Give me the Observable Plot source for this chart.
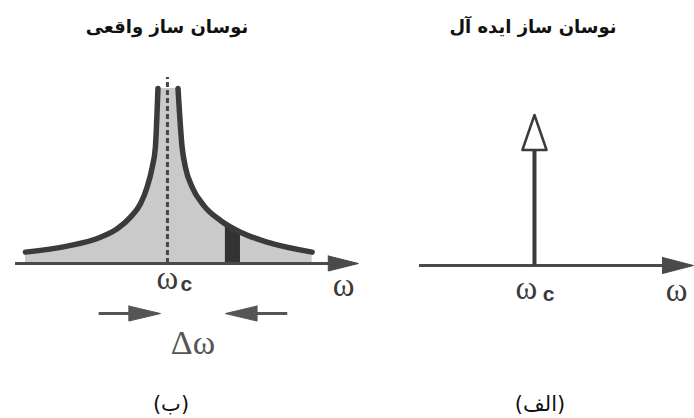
<!DOCTYPE html>
<html>
<head>
<meta charset="utf-8">
<script src="https://cdn.jsdelivr.net/npm/d3@7"></script>
<script src="https://cdn.jsdelivr.net/npm/@observablehq/plot@0.6"></script>
<style>
  body { margin: 0; background: #fff; }
  #fig { position: relative; width: 694px; height: 418px; overflow: hidden; background: #fff; }
  .title { position: absolute; top: 16px; line-height: 26px; font: bold 18px "DejaVu Sans", sans-serif;
           direction: rtl; transform: translateX(-50%); white-space: nowrap; color: #111; }
  .cap { position: absolute; top: 392px; line-height: 26px; font: 21px "DejaVu Sans", sans-serif;
         direction: rtl; transform: translateX(-50%); white-space: nowrap; color: #111; }
  .panel { position: absolute; top: 55px; }
</style>
</head>
<body>
<div id="fig"></div>
<script>
// Panel headings and captions
const titles = ["نوسان ساز واقعی", "نوسان ساز ایده آل"];
const captions = ["(ب)", "(الف)"];
const omega = "ω";
const centerSub = "c";
const linewidthLabel = "Δω";

// Real oscillator: spectral level on each side of ωc (offset from ωc, arbitrary units)
const lowerOffset = [-9.41, -6.65, -4.44, -3.33, -2.45, -1.79, -1.35, -1.01, -0.80, -0.63];
const lowerLevel  = [0.65, 0.99, 1.50, 1.98, 2.65, 3.41, 4.36, 5.50, 6.65, 10];
const upperOffset = [0.70, 0.97, 1.19, 1.64, 2.41, 3.51, 4.84, 6.61, 9.59];
const upperLevel  = [10, 6.65, 5.50, 4.36, 3.31, 2.46, 1.79, 1.22, 0.65];

// Narrow slice of the upper skirt, shaded dark
const sliceOffset = [3.84, 4.84];
const sliceLevel  = [2.3, 1.8];

// Δω: the two offsets the arrows point at
const linewidthEdges = [-0.46, 3.84];

// Ideal oscillator: one spectral line at ωc
const idealOffset = [0];
const idealLevel  = [8.6];

// ---- tables for the marks ----
const realSpectrum = [
  ...lowerOffset.map((x, i) => ({x, y: lowerLevel[i], side: "lower"})),
  ...upperOffset.map((x, i) => ({x, y: upperLevel[i], side: "upper"}))
];
const slice = sliceOffset.map((x, i) => ({x, y: sliceLevel[i]}));

// closed triangle pointing along x (dir = +1 right, -1 left), tip at (tx, ty)
function hHead(id, tx, ty, dir, len, half) {
  const bx = tx - dir * len;
  return [{id, x: bx, y: ty + half}, {id, x: tx, y: ty}, {id, x: bx, y: ty - half}, {id, x: bx, y: ty + half}];
}
// closed triangle pointing up, apex at (tx, ty)
function vHead(id, tx, ty, len, half) {
  const by = ty - len;
  return [{id, x: tx - half, y: by}, {id, x: tx, y: ty}, {id, x: tx + half, y: by}, {id, x: tx - half, y: by}];
}

const ink = "#3b3b3b";
const axisInk = "#4a4a4a";
const serif = "Liberation Serif, serif";
const sans = "Liberation Sans, sans-serif";

// ---- left panel: real oscillator ----
const dirs = [1, -1];           // Δω arrows point inward
const arrowY = -2.86;
const linewidthHeads = linewidthEdges.flatMap((t, i) => hHead("w" + i, t, arrowY, dirs[i], 2.1, 0.43));

const real = Plot.plot({
  width: 380, height: 310, margin: 0,
  x: {domain: [-11, 12], range: [1, 348]},
  y: {domain: [0, 10], range: [208, 33]},
  axis: null,
  style: {background: "transparent", overflow: "visible"},
  marks: [
    Plot.areaY(realSpectrum, {x: "x", y: "y", fill: "#cacaca", curve: "monotone-x"}),
    Plot.areaY(slice, {x: "x", y: "y", fill: "#333"}),
    Plot.ruleX([0], {y1: 0, y2: 10.63, stroke: "#474747", strokeWidth: 3, strokeDasharray: "5,3"}),
    Plot.ruleY([0], {x1: -10.07, x2: 11, stroke: axisInk, strokeWidth: 3}),
    Plot.line(realSpectrum, {x: "x", y: "y", z: "side", stroke: ink, strokeWidth: 5.5, curve: "monotone-x"}),
    Plot.line(hHead("axis", 12.66, 0, 1, 2, 0.43), {x: "x", y: "y", fill: axisInk, stroke: axisInk, strokeWidth: 1}),
    Plot.link(linewidthEdges, {
      x1: (d, i) => d - dirs[i] * 4.1, x2: (d, i) => d - dirs[i] * 1.5,
      y1: arrowY, y2: arrowY, stroke: "#555", strokeWidth: 3
    }),
    Plot.line(linewidthHeads, {x: "x", y: "y", z: "id", fill: "#555", stroke: "#555", strokeWidth: 1}),
    Plot.text([linewidthLabel], {
      x: d3.mean(linewidthEdges), y: arrowY, text: d => d, dy: 40, lineAnchor: "bottom",
      fontFamily: serif, fontSize: 34, fill: "#555"
    }),
    Plot.text([omega], {x: 0, y: 0, text: d => d, dy: 25, lineAnchor: "bottom", fontFamily: serif, fontSize: 33, fill: ink}),
    Plot.text([centerSub], {x: 0, y: 0, text: d => d, dx: 19, dy: 27, lineAnchor: "bottom", fontFamily: sans, fontWeight: "bold", fontSize: 21, fill: ink}),
    Plot.text([omega], {x: 11.67, y: 0, text: d => d, dy: 32, lineAnchor: "bottom", fontFamily: serif, fontSize: 33, fill: ink})
  ]
});
real.classList.add("panel");
real.style.left = "0px";

// ---- right panel: ideal oscillator ----
const ideal = Plot.plot({
  width: 314, height: 310, margin: 0,
  x: {domain: [-10.2, 10.6], range: [0, 314]},
  y: {domain: [0, 10], range: [210, 35]},
  axis: null,
  style: {background: "transparent", overflow: "visible"},
  marks: [
    Plot.ruleY([0], {x1: -7.62, x2: 8.8, stroke: axisInk, strokeWidth: 3}),
    Plot.line(hHead("axis", 10.53, 0, 1, 2.05, 0.46), {x: "x", y: "y", fill: axisInk, stroke: axisInk, strokeWidth: 1}),
    Plot.ruleX(idealOffset, {y1: 0, y2: (d, i) => idealLevel[i] - 2, stroke: ink, strokeWidth: 4}),
    Plot.line(idealOffset.flatMap((d, i) => vHead("line" + i, d, idealLevel[i], 2, 0.8)),
      {x: "x", y: "y", z: "id", fill: "white", stroke: ink, strokeWidth: 2.5}),
    Plot.text([omega], {x: 0, y: 0, text: d => d, dx: -8, dy: 33, lineAnchor: "bottom", fontFamily: serif, fontSize: 33, fill: ink}),
    Plot.text([centerSub], {x: 0, y: 0, text: d => d, dx: 14, dy: 35, lineAnchor: "bottom", fontFamily: sans, fontWeight: "bold", fontSize: 21, fill: ink}),
    Plot.text([omega], {x: 9.41, y: 0, text: d => d, dy: 35, lineAnchor: "bottom", fontFamily: serif, fontSize: 33, fill: ink})
  ]
});
ideal.classList.add("panel");
ideal.style.left = "380px";

const fig = document.getElementById("fig");
fig.append(real, ideal);

// headings above, captions below
const titleX = [167, 533];
const capX = [171, 540];
titles.forEach((t, i) => {
  const el = document.createElement("div");
  el.className = "title"; el.textContent = t; el.style.left = titleX[i] + "px";
  fig.append(el);
});
captions.forEach((t, i) => {
  const el = document.createElement("div");
  el.className = "cap"; el.textContent = t; el.style.left = capX[i] + "px";
  fig.append(el);
});
</script>
</body>
</html>
